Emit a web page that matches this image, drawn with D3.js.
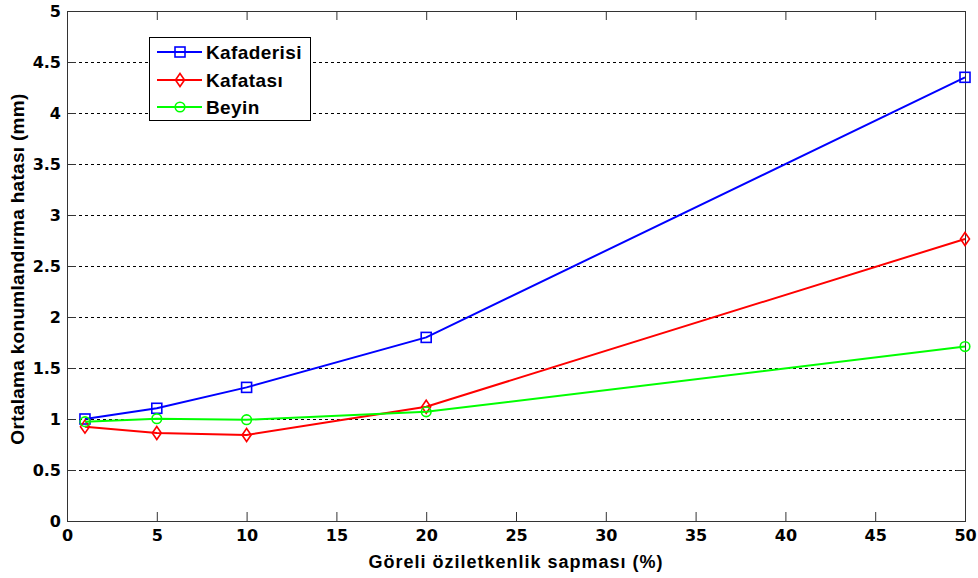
<!DOCTYPE html>
<html>
<head>
<meta charset="utf-8">
<script src="https://cdn.jsdelivr.net/npm/d3@7"></script>
<style>
  html, body { margin: 0; padding: 0; background: #fff; }
  svg { display: block; font-family: "Liberation Sans", Arial, sans-serif; }
</style>
</head>
<body>
<svg id="chart" width="978" height="578"></svg>
<script>
// Deviation levels (%) and mean localization error (mm) per tissue
const xValues = [1, 5, 10, 20, 50];
const kafaderisi = [1.00, 1.105, 1.31, 1.80, 4.35];
const kafatasi = [0.925, 0.863, 0.843, 1.12, 2.765];
const beyin = [0.974, 1.003, 0.993, 1.07, 1.71];

const xTicks = [0, 5, 10, 15, 20, 25, 30, 35, 40, 45, 50];
const yTicks = [0, 0.5, 1, 1.5, 2, 2.5, 3, 3.5, 4, 4.5, 5];
const yGrid = [0.5, 1, 1.5, 2, 2.5, 3, 3.5, 4, 4.5];

const seriesNames = ["Kafaderisi", "Kafatası", "Beyin"];
const seriesColors = ["#0000ff", "#ff0000", "#00ff00"];
const seriesMarkers = ["square", "diamond", "circle"];
const seriesValues = [kafaderisi, kafatasi, beyin];

const xLabel = "Göreli öziletkenlik sapması (%)";
const yLabel = "Ortalama konumlandırma hatası (mm)";

const svg = d3.select("#chart");
const plot = { left: 67, right: 965, top: 11, bottom: 521 };

const x = d3.scaleLinear().domain([0, 50]).range([plot.left, plot.right]);
const y = d3.scaleLinear().domain([0, 5]).range([plot.bottom, plot.top]);

// Dashed horizontal grid
svg.append("g").selectAll("line").data(yGrid).join("line")
  .attr("x1", plot.left).attr("x2", plot.right)
  .attr("y1", d => y(d) + 0.5).attr("y2", d => y(d) + 0.5)
  .attr("stroke", "#000").attr("stroke-width", 1)
  .attr("stroke-dasharray", "3,3");

const tickLen = 9;
const tickFont = "DejaVu Sans, sans-serif";
const axisStyle = g => {
  g.select(".domain").remove();
  g.selectAll(".tick line").attr("stroke", "#333").attr("stroke-width", 1);
  g.selectAll(".tick text").attr("font-size", 16).attr("font-weight", "bold")
    .attr("fill", "#000").attr("font-family", tickFont);
};

// Bottom and left axes with inward ticks
svg.append("g").attr("transform", `translate(0,${plot.bottom})`)
  .call(d3.axisBottom(x).tickValues(xTicks).tickFormat(d3.format("d"))
    .tickSizeInner(-tickLen).tickSizeOuter(0).tickPadding(8.5))
  .call(axisStyle);

svg.append("g").attr("transform", `translate(${plot.left},0)`)
  .call(d3.axisLeft(y).tickValues(yTicks).tickFormat(d => String(d))
    .tickSizeInner(-tickLen).tickSizeOuter(0).tickPadding(6))
  .call(axisStyle);

// Top and right mirrored ticks
svg.append("g").attr("transform", `translate(0,${plot.top})`)
  .call(d3.axisTop(x).tickValues(xTicks).tickFormat("")
    .tickSizeInner(-tickLen).tickSizeOuter(0))
  .call(axisStyle);

svg.append("g").attr("transform", `translate(${plot.right},0)`)
  .call(d3.axisRight(y).tickValues(yTicks).tickFormat("")
    .tickSizeInner(-tickLen).tickSizeOuter(0))
  .call(axisStyle);

// Plot frame
svg.append("rect")
  .attr("x", plot.left + 0.5).attr("y", plot.top + 0.5)
  .attr("width", plot.right - plot.left).attr("height", plot.bottom - plot.top)
  .attr("fill", "none").attr("stroke", "#333").attr("stroke-width", 1);

// Marker shapes
function drawMarker(g, type, cx, cy, color) {
  if (type === "square") {
    g.append("rect").attr("x", cx - 5).attr("y", cy - 5).attr("width", 10).attr("height", 10)
      .attr("fill", "none").attr("stroke", color).attr("stroke-width", 1.6);
  } else if (type === "diamond") {
    g.append("path").attr("d", `M${cx},${cy - 6.5}L${cx + 4.5},${cy}L${cx},${cy + 6.5}L${cx - 4.5},${cy}Z`)
      .attr("fill", "none").attr("stroke", color).attr("stroke-width", 1.6);
  } else {
    g.append("circle").attr("cx", cx).attr("cy", cy).attr("r", 4.8)
      .attr("fill", "none").attr("stroke", color).attr("stroke-width", 1.6);
  }
}

const line = d3.line().x(d => x(d[0])).y(d => y(d[1]));

seriesValues.forEach((vals, i) => {
  const pts = xValues.map((xv, j) => [xv, vals[j]]);
  const g = svg.append("g");
  g.append("path").datum(pts).attr("d", line)
    .attr("fill", "none").attr("stroke", seriesColors[i]).attr("stroke-width", 2);
  pts.forEach(p => drawMarker(g, seriesMarkers[i], x(p[0]), y(p[1]), seriesColors[i]));
});

// Legend
const leg = svg.append("g");
leg.append("rect").attr("x", 149.5).attr("y", 37.5).attr("width", 161).attr("height", 83)
  .attr("fill", "#fff").attr("stroke", "#000").attr("stroke-width", 1);
const legY = [52, 80, 107];
seriesNames.forEach((name, i) => {
  leg.append("line").attr("x1", 157).attr("x2", 202).attr("y1", legY[i]).attr("y2", legY[i])
    .attr("stroke", seriesColors[i]).attr("stroke-width", 2);
  drawMarker(leg, seriesMarkers[i], 180, legY[i], seriesColors[i]);
  leg.append("text").attr("x", 206).attr("y", legY[i]).attr("dy", "0.36em")
    .attr("font-size", 19).attr("letter-spacing", 0.4)
    .attr("font-weight", "bold").attr("fill", "#000").text(name);
});

// Axis titles
svg.append("text").attr("x", (plot.left + plot.right) / 2).attr("y", 567.5)
  .attr("text-anchor", "middle").attr("font-size", 18).attr("letter-spacing", 1)
  .attr("font-weight", "bold")
  .text(xLabel);

svg.append("text").attr("transform", `translate(24,${(plot.top + plot.bottom) / 2 + 3}) rotate(-90)`)
  .attr("text-anchor", "middle").attr("font-size", 19).attr("letter-spacing", 0.3)
  .attr("font-weight", "bold")
  .text(yLabel);
</script>
</body>
</html>
